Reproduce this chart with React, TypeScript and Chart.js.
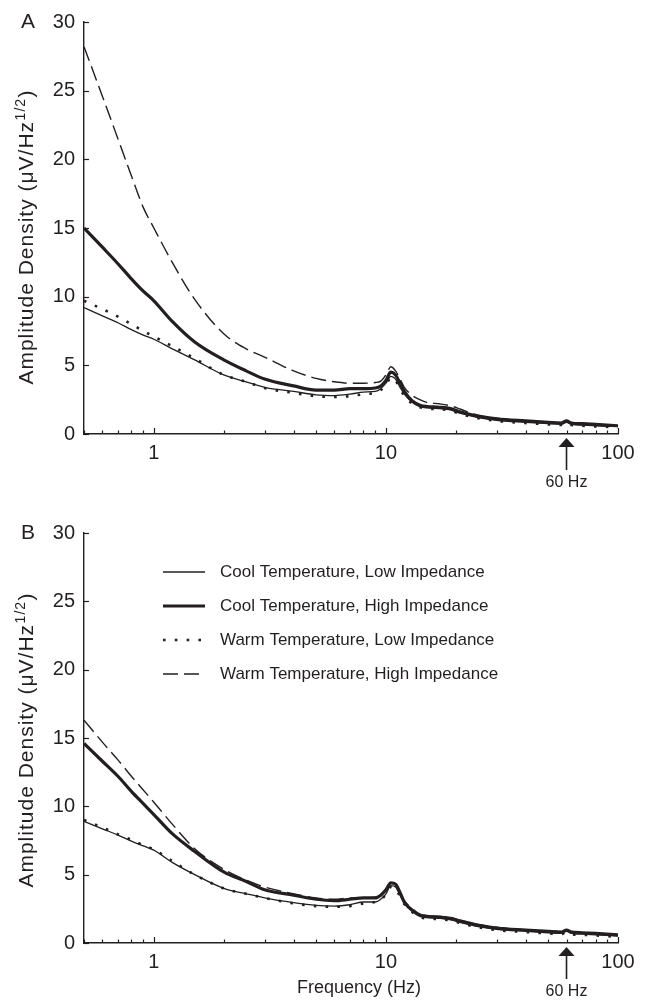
import React, { useEffect, useRef } from 'react';
import { Chart, registerables } from 'chart.js';

Chart.register(...registerables);

// ---------- data ----------
const FREQ = [0.5, 0.6, 0.7, 0.8, 0.9, 1, 1.2, 1.5, 2, 2.5, 3, 4, 5, 6, 7, 8, 9, 9.5, 10, 10.5, 11, 11.5, 12, 13, 14, 15, 17, 19, 21, 25, 30, 40, 50, 57, 60, 63, 70, 80, 100];

// Panel A
const A_COOL_LOW = [9.2, 8.6, 8.1, 7.6, 7.2, 6.9, 6.2, 5.4, 4.3, 3.8, 3.4, 3.1, 2.85, 2.8, 2.9, 3.05, 3.1, 3.3, 3.7, 4.2, 4.0, 3.4, 2.9, 2.3, 2.0, 1.9, 1.85, 1.75, 1.5, 1.2, 1.0, 0.85, 0.75, 0.7, 0.85, 0.7, 0.65, 0.6, 0.55];
const A_COOL_HIGH = [15.0, 13.6, 12.4, 11.3, 10.4, 9.7, 8.2, 6.7, 5.4, 4.6, 4.0, 3.5, 3.2, 3.2, 3.3, 3.3, 3.35, 3.5, 3.9, 4.5, 4.3, 3.7, 3.1, 2.4, 2.1, 2.0, 1.95, 1.85, 1.6, 1.3, 1.1, 0.95, 0.85, 0.8, 0.95, 0.8, 0.75, 0.7, 0.6];
const A_WARM_LOW = [9.7, 9.1, 8.55, 8.0, 7.5, 7.1, 6.4, 5.5, 4.3, 3.8, 3.35, 3.0, 2.75, 2.7, 2.75, 2.9, 3.0, 3.2, 3.6, 4.1, 3.9, 3.3, 2.8, 2.2, 1.95, 1.85, 1.8, 1.7, 1.45, 1.15, 0.95, 0.8, 0.7, 0.65, 0.8, 0.65, 0.6, 0.55, 0.5];
const A_WARM_HIGH = [28.2, 24.6, 21.5, 18.8, 16.5, 15.0, 12.5, 9.8, 7.3, 6.2, 5.6, 4.6, 4.05, 3.8, 3.7, 3.7, 3.75, 3.85, 4.3, 4.9, 4.6, 4.0, 3.4, 2.8, 2.5, 2.3, 2.2, 2.05, 1.8, 1.35, 1.15, 0.95, 0.85, 0.8, 0.95, 0.8, 0.75, 0.7, 0.6];

// Panel B
const B_COOL_LOW = [8.9, 8.35, 7.9, 7.45, 7.1, 6.8, 5.9, 5.0, 4.0, 3.6, 3.3, 2.95, 2.75, 2.7, 2.8, 3.0, 3.0, 3.2, 3.6, 4.2, 4.1, 3.5, 2.9, 2.3, 1.95, 1.85, 1.8, 1.7, 1.5, 1.2, 1.0, 0.85, 0.75, 0.7, 0.85, 0.7, 0.65, 0.6, 0.5];
const B_COOL_HIGH = [14.6, 13.3, 12.2, 11.1, 10.2, 9.4, 8.0, 6.7, 5.2, 4.5, 3.9, 3.5, 3.2, 3.1, 3.2, 3.3, 3.3, 3.5, 3.9, 4.4, 4.3, 3.7, 3.0, 2.4, 2.05, 1.95, 1.9, 1.8, 1.6, 1.3, 1.1, 0.95, 0.85, 0.8, 0.95, 0.8, 0.75, 0.7, 0.6];
const B_WARM_LOW = [9.0, 8.45, 7.95, 7.55, 7.15, 6.85, 6.0, 5.0, 4.0, 3.6, 3.3, 2.9, 2.7, 2.65, 2.7, 2.9, 3.0, 3.15, 3.55, 4.1, 4.0, 3.4, 2.85, 2.25, 1.9, 1.8, 1.75, 1.65, 1.45, 1.15, 0.95, 0.8, 0.7, 0.65, 0.8, 0.65, 0.6, 0.55, 0.45];
const B_WARM_HIGH = [16.3, 14.7, 13.4, 12.2, 11.2, 10.3, 8.7, 6.9, 5.4, 4.6, 4.1, 3.6, 3.3, 3.2, 3.3, 3.3, 3.35, 3.5, 3.9, 4.4, 4.3, 3.7, 3.1, 2.5, 2.1, 2.0, 1.95, 1.85, 1.65, 1.35, 1.15, 0.95, 0.85, 0.8, 0.95, 0.8, 0.75, 0.7, 0.6];

const SERIES_LABELS = [
  'Cool Temperature, Low Impedance',
  'Cool Temperature, High Impedance',
  'Warm Temperature, Low Impedance',
  'Warm Temperature, High Impedance',
];

const X_TICKS = [0.5, 0.6, 0.7, 0.8, 0.9, 1, 2, 3, 4, 5, 6, 7, 8, 9, 10, 20, 30, 40, 50, 60, 70, 80, 90, 100];
const X_MAJOR = [1, 10, 100];
const Y_TICKS = [0, 5, 10, 15, 20, 25, 30];
const MARK_FREQ = 60;
const MARK_LABEL = '60 Hz';
const X_TITLE = 'Frequency (Hz)';
const Y_TITLE_MAIN = 'Amplitude Density (\u03bcV/Hz';
const Y_TITLE_SUP = '1/2';
const Y_TITLE_END = ')';

// ---------- style ----------
const INK = '#231f20';
const FONT = '"Liberation Sans", Arial, Helvetica, sans-serif';
const W = 645;

const STYLES = [
  { borderWidth: 1.3, borderDash: [] as number[], cap: 'butt' },
  { borderWidth: 3.2, borderDash: [] as number[], cap: 'butt' },
  { borderWidth: 2.6, borderDash: [2.6, 9.2], cap: 'butt' },
  { borderWidth: 1.4, borderDash: [15, 6], cap: 'butt' },
];

type PanelCfg = {
  letter: string;
  series: number[][];
  height: number;
  top: number;
  bottom: number;
  titleCy: number;
  legend: boolean;
  xTitle: boolean;
};

function drawYTitle(ctx: CanvasRenderingContext2D, cx: number, cy: number) {
  const F = 21;
  const FS = 14;
  ctx.save();
  ctx.translate(cx, cy);
  ctx.rotate(-Math.PI / 2);
  ctx.fillStyle = INK;
  ctx.textAlign = 'left';
  ctx.textBaseline = 'alphabetic';
  (ctx as any).letterSpacing = '1px';
  ctx.font = `${F}px ${FONT}`;
  const w1 = ctx.measureText(Y_TITLE_MAIN).width;
  const w3 = ctx.measureText(Y_TITLE_END).width;
  ctx.font = `${FS}px ${FONT}`;
  const w2 = ctx.measureText(Y_TITLE_SUP).width;
  let x0 = -(w1 + w2 + w3 + 1) / 2;
  ctx.font = `${F}px ${FONT}`;
  ctx.fillText(Y_TITLE_MAIN, x0, 0);
  x0 += w1 + 0.5;
  ctx.font = `${FS}px ${FONT}`;
  ctx.fillText(Y_TITLE_SUP, x0, -8.5);
  x0 += w2 + 0.5;
  ctx.font = `${F}px ${FONT}`;
  ctx.fillText(Y_TITLE_END, x0, 0);
  ctx.restore();
}

function makePlugin(cfg: PanelCfg) {
  return {
    id: 'annot' + cfg.letter,
    afterDraw(chart: any) {
      const { ctx, chartArea: ca, scales } = chart;
      const x = scales.x;
      const y = scales.y;
      ctx.save();
      ctx.strokeStyle = INK;
      ctx.lineWidth = 1.2;
      X_TICKS.forEach((v) => {
        const px = Math.round(x.getPixelForValue(v)) + 0.5;
        const len = X_MAJOR.includes(v) ? 6 : 3.5;
        ctx.beginPath();
        ctx.moveTo(px, ca.bottom);
        ctx.lineTo(px, ca.bottom - len);
        ctx.stroke();
      });
      Y_TICKS.forEach((v) => {
        const py = Math.round(y.getPixelForValue(v)) + 0.5;
        ctx.beginPath();
        ctx.moveTo(ca.left, py);
        ctx.lineTo(ca.left + 5, py);
        ctx.stroke();
      });

      ctx.fillStyle = INK;
      ctx.font = `21px ${FONT}`;
      ctx.textAlign = 'center';
      ctx.textBaseline = 'middle';
      ctx.fillText(cfg.letter, 28, ca.top);

      drawYTitle(ctx, 33, cfg.titleCy);

      const mx = x.getPixelForValue(MARK_FREQ);
      const b = ca.bottom;
      ctx.beginPath();
      ctx.moveTo(mx, b + 4);
      ctx.lineTo(mx - 8, b + 13);
      ctx.lineTo(mx + 8, b + 13);
      ctx.closePath();
      ctx.fill();
      ctx.lineWidth = 1.6;
      ctx.beginPath();
      ctx.moveTo(mx, b + 12);
      ctx.lineTo(mx, b + 36);
      ctx.stroke();
      ctx.font = `16px ${FONT}`;
      ctx.textAlign = 'center';
      ctx.textBaseline = 'middle';
      ctx.fillText(MARK_LABEL, mx, b + 49);

      if (cfg.xTitle) {
        ctx.font = `18px ${FONT}`;
        ctx.textAlign = 'center';
        ctx.textBaseline = 'middle';
        ctx.fillText(X_TITLE, 359, b + 45);
      }

      if (cfg.legend) {
        const rows = [72, 106, 140, 174];
        rows.forEach((ry, i) => {
          const st = STYLES[i];
          ctx.save();
          ctx.strokeStyle = INK;
          ctx.lineWidth = st.borderWidth;
          ctx.setLineDash(st.borderDash);
          ctx.lineCap = st.cap;
          ctx.beginPath();
          ctx.moveTo(163, ry);
          ctx.lineTo(205, ry);
          ctx.stroke();
          ctx.restore();
          ctx.fillStyle = INK;
          ctx.font = `17px ${FONT}`;
          ctx.textAlign = 'left';
          ctx.textBaseline = 'middle';
          ctx.fillText(SERIES_LABELS[i], 220, ry);
        });
      }
      ctx.restore();
    },
  };
}

function Panel({ cfg }: { cfg: PanelCfg }) {
  const ref = useRef<HTMLCanvasElement | null>(null);
  useEffect(() => {
    if (!ref.current) return;
    const datasets = cfg.series.map((vals, i) => ({
      label: SERIES_LABELS[i],
      data: FREQ.map((f, j) => ({ x: f, y: vals[j] })),
      borderColor: INK,
      backgroundColor: INK,
      borderWidth: STYLES[i].borderWidth,
      borderDash: STYLES[i].borderDash,
      borderCapStyle: STYLES[i].cap as any,
      pointRadius: 0,
      fill: false,
      cubicInterpolationMode: 'monotone' as const,
      order: i === 1 ? 0 : 1,
    }));
    const chart = new Chart(ref.current, {
      type: 'line',
      data: { datasets },
      plugins: [makePlugin(cfg)],
      options: {
        responsive: false,
        animation: false,
        devicePixelRatio: 1,
        layout: { padding: { left: 0, right: 27, top: cfg.top, bottom: 0 } },
        plugins: { legend: { display: false }, tooltip: { enabled: false } },
        scales: {
          x: {
            type: 'logarithmic',
            min: 0.5,
            max: 100,
            afterBuildTicks: (s: any) => {
              s.ticks = X_TICKS.map((v) => ({ value: v, major: X_MAJOR.includes(v) }));
            },
            afterFit: (s: any) => {
              s.height = cfg.height - cfg.bottom;
            },
            grid: { display: false, drawTicks: false },
            border: { display: true, color: INK, width: 1.4 },
            ticks: {
              autoSkip: false,
              maxRotation: 0,
              padding: 7,
              color: INK,
              font: { family: FONT, size: 20 },
              callback: (v: any) => (X_MAJOR.includes(Number(v)) ? String(v) : ''),
            },
          },
          y: {
            type: 'linear',
            min: 0,
            max: 30,
            afterFit: (s: any) => {
              s.width = 84;
            },
            grid: { display: false, drawTicks: false },
            border: { display: true, color: INK, width: 1.4 },
            ticks: {
              stepSize: 5,
              padding: 9,
              color: INK,
              font: { family: FONT, size: 20 },
            },
          },
        },
      },
    });
    return () => chart.destroy();
  }, [cfg]);
  return <canvas ref={ref} width={W} height={cfg.height} style={{ display: 'block', width: W, height: cfg.height }} />;
}

const PANEL_A: PanelCfg = {
  letter: 'A',
  series: [A_COOL_LOW, A_COOL_HIGH, A_WARM_LOW, A_WARM_HIGH],
  height: 500,
  top: 22,
  bottom: 434,
  titleCy: 237,
  legend: false,
  xTitle: false,
};

const PANEL_B: PanelCfg = {
  letter: 'B',
  series: [B_COOL_LOW, B_COOL_HIGH, B_WARM_LOW, B_WARM_HIGH],
  height: 505,
  top: 33,
  bottom: 443,
  titleCy: 240,
  legend: true,
  xTitle: true,
};

export default function App() {
  return (
    <div style={{ position: 'absolute', left: 0, top: 0, width: W, height: 1005, background: '#fff' }}>
      <Panel cfg={PANEL_A} />
      <Panel cfg={PANEL_B} />
    </div>
  );
}
